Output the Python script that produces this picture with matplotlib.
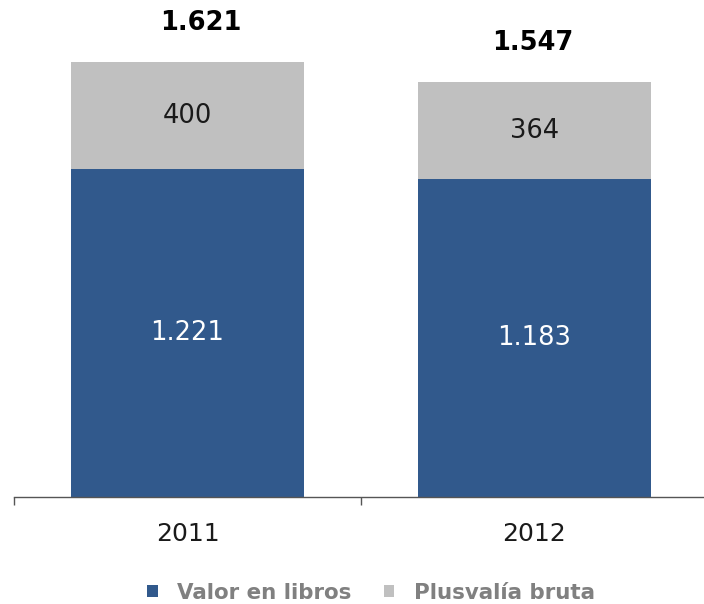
import matplotlib
matplotlib.use("Agg")
import matplotlib.pyplot as plt

categories = ["2011", "2012"]
valor_libros = [1221, 1183]
plusvalia = [400, 364]
totals = [1621, 1547]
series_names = ["Valor en libros", "Plusvalía bruta"]
total_label_dx = [9.5, -1.5]  # horizontal offset of total labels (points), as in reference

def fmt(v):
    return f"{v:,}".replace(",", ".")

BLUE = "#31598c"
GRAY = "#c0c0c0"

fig = plt.figure(figsize=(7.04, 6.04), dpi=100)
ax = fig.add_axes([14/704, 107/604, 694/704, 477/604])

x = list(range(len(categories)))
b1 = ax.bar(x, valor_libros, width=0.67, color=BLUE, label=series_names[0])
b2 = ax.bar(x, plusvalia, width=0.67, bottom=valor_libros, color=GRAY, label=series_names[1])

for i in x:
    ax.text(i, valor_libros[i] / 2, fmt(valor_libros[i]), ha="center", va="center",
            color="white", fontsize=18.5)
    ax.text(i, valor_libros[i] + plusvalia[i] / 2, fmt(plusvalia[i]), ha="center",
            va="center", color="#1a1a1a", fontsize=18.5)
    ax.annotate(fmt(totals[i]), (i, totals[i]), xytext=(total_label_dx[i], 28),
                textcoords="offset points", ha="center", va="center",
                fontsize=18.5, fontweight="bold", color="black")

ax.set_xlim(-0.5, 1.5)
ax.set_ylim(0, 477 / 0.2684)
for s in ["top", "right", "left"]:
    ax.spines[s].set_visible(False)
ax.spines["bottom"].set_color("#555555")
ax.spines["bottom"].set_linewidth(1.0)
ax.set_yticks([])
ax.set_xticks(x)
ax.set_xticklabels(categories, fontsize=18, color="#1a1a1a")
ax.tick_params(axis="x", which="major", length=0, pad=18)
ax.set_xticks([-0.5, 0.5, 1.5], minor=True)
ax.tick_params(axis="x", which="minor", length=6, width=1.0, color="#555555")

leg = fig.legend(handles=[b1, b2], labels=series_names, loc="lower center",
                 bbox_to_anchor=(0.527, -0.03), ncol=2, frameon=False,
                 handlelength=0.5, handleheight=0.5, handletextpad=0.9,
                 columnspacing=1.5, prop={"size": 15.4, "weight": "bold"})
for t in leg.get_texts():
    t.set_color("#808080")

fig.savefig("out.png", dpi=100)
